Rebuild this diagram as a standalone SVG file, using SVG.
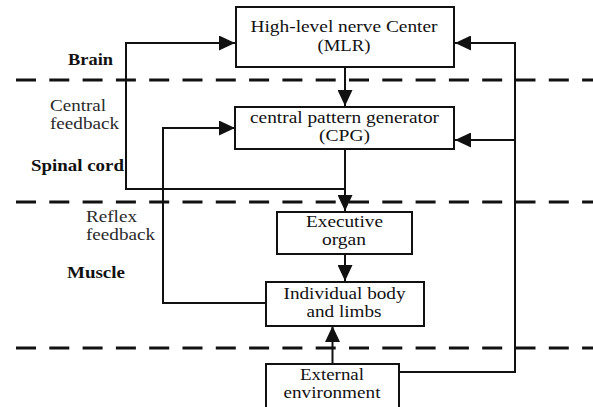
<svg xmlns="http://www.w3.org/2000/svg" width="593" height="407" viewBox="0 0 593 407" font-family="Liberation Serif" font-size="16">
<defs>
<style>
.box{fill:#fff;stroke:#111;stroke-width:2}
.t{text-anchor:middle;fill:#111}
.lab{fill:#2a2a2a}
.b{font-weight:bold;fill:#111;font-size:17.5px}
.dash{stroke:#111;stroke-width:3;stroke-dasharray:20 13.3;fill:none}
.c{stroke:#111;stroke-width:2;fill:none}
.a{marker-end:url(#arr)}
</style>
<marker id="arr" markerUnits="userSpaceOnUse" markerWidth="16" markerHeight="15" refX="16" refY="7.5" orient="auto">
<path d="M0,0 L16,7.5 L0,15 z" fill="#111"/>
</marker>
</defs>
<rect width="593" height="407" fill="#fff"/>
<g id="dividers">
<line class="dash" x1="16" y1="80" x2="593" y2="80"/>
<line class="dash" x1="16" y1="202" x2="593" y2="202"/>
<line class="dash" x1="16" y1="348" x2="593" y2="348"/>
</g>
<g id="labels">
<text class="lab b" x="68" y="65" textLength="45" lengthAdjust="spacingAndGlyphs">Brain</text>
<text class="lab" x="50" y="111" textLength="56" lengthAdjust="spacingAndGlyphs">Central</text>
<text class="lab" x="50" y="129" textLength="69" lengthAdjust="spacingAndGlyphs">feedback</text>
<text class="lab b" x="31" y="171" textLength="93" lengthAdjust="spacingAndGlyphs">Spinal cord</text>
<text class="lab" x="86" y="222" textLength="51" lengthAdjust="spacingAndGlyphs">Reflex</text>
<text class="lab" x="86" y="240" textLength="69" lengthAdjust="spacingAndGlyphs">feedback</text>
<text class="lab b" x="67" y="278" textLength="58" lengthAdjust="spacingAndGlyphs">Muscle</text>
</g>
<g id="connectors">
<line class="c a" x1="345" y1="67" x2="345" y2="106"/>
<line class="c a" x1="345" y1="150" x2="345" y2="211"/>
<line class="c a" x1="345" y1="254" x2="345" y2="281"/>
<line class="c a" x1="332.5" y1="364" x2="332.5" y2="326"/>
<polyline class="c a" points="345,189 126,189 126,43 235,43"/>
<polyline class="c a" points="266,303 163,303 163,128 235,128"/>
<polyline class="c a" points="399,372 515,372 515,43 455,43"/>
<line class="c a" x1="515" y1="140" x2="455" y2="140"/>
</g>
<g id="mlr">
<rect class="box" x="236" y="7" width="218" height="60"/>
<text class="t" x="344" y="32" textLength="187" lengthAdjust="spacingAndGlyphs">High-level nerve Center</text>
<text class="t" x="344" y="51" textLength="53" lengthAdjust="spacingAndGlyphs">(MLR)</text>
</g>
<g id="cpg">
<rect class="box" x="235" y="107" width="219" height="42"/>
<text class="t" x="344.5" y="123" textLength="189" lengthAdjust="spacingAndGlyphs">central pattern generator</text>
<text class="t" x="344.5" y="141" textLength="51" lengthAdjust="spacingAndGlyphs">(CPG)</text>
</g>
<g id="executive">
<rect class="box" x="277" y="212" width="135" height="42"/>
<text class="t" x="344.5" y="227" textLength="77" lengthAdjust="spacingAndGlyphs">Executive</text>
<text class="t" x="344" y="245" textLength="44" lengthAdjust="spacingAndGlyphs">organ</text>
</g>
<g id="body">
<rect class="box" x="266" y="282" width="158" height="44"/>
<text class="t" x="344.5" y="299" textLength="122" lengthAdjust="spacingAndGlyphs">Individual body</text>
<text class="t" x="344" y="317" textLength="75" lengthAdjust="spacingAndGlyphs">and limbs</text>
</g>
<g id="environment">
<rect class="box" x="266" y="364" width="133" height="44"/>
<text class="t" x="332" y="380" textLength="64" lengthAdjust="spacingAndGlyphs">External</text>
<text class="t" x="332" y="398" textLength="97" lengthAdjust="spacingAndGlyphs">environment</text>
</g>
</svg>
